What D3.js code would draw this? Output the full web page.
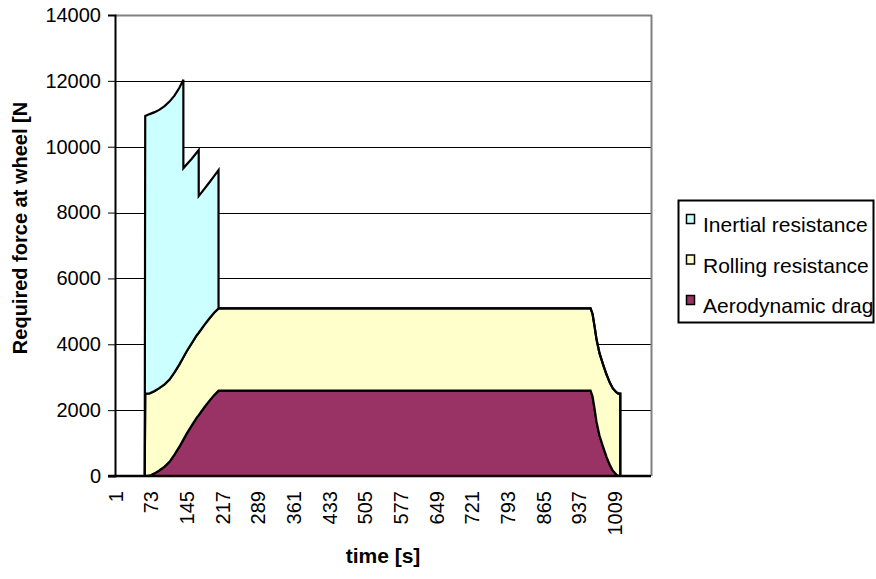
<!DOCTYPE html>
<html>
<head>
<meta charset="utf-8">
<script src="https://cdn.jsdelivr.net/npm/d3@7"></script>
<style>
  html, body { margin: 0; padding: 0; background: #ffffff; }
  svg { display: block; }
  text { font-family: "Liberation Sans", Arial, sans-serif; fill: #000; }
</style>
</head>
<body>
<svg id="chart" width="876" height="579"></svg>
<script>
// ---- data ----
const times = [1, 60, 61, 70, 80, 90, 100, 110, 120, 130, 138, 138, 145, 155, 165, 169, 169, 180, 190, 200, 209, 209,
               960, 964, 968, 972, 978, 985, 992, 999, 1005, 1012, 1016, 1020, 1020, 1082];
const aerodynamicDrag = [0, 0, 0, 10, 80, 175, 285, 430, 650, 890, 1105, 1105, 1295, 1535, 1775, 1850, 1850, 2080, 2275, 2455, 2590, 2590,
               2590, 2420, 2050, 1650, 1230, 900, 590, 330, 160, 45, 0, 0, 0, 0];
const rollingResistance = [0, 0, 2500, 2500, 2500, 2500, 2500, 2500, 2500, 2500, 2500, 2500, 2500, 2500, 2500, 2500, 2500, 2500, 2500, 2500, 2500, 2500,
               2500, 2500, 2500, 2500, 2500, 2500, 2500, 2500, 2500, 2500, 2500, 2500, 0, 0];
const inertialResistance = [0, 0, 8430, 8480, 8470, 8450, 8450, 8440, 8400, 8400, 8430, 5740, 5670, 5600, 5550, 5550, 4150, 4130, 4130, 4150, 4200, 0,
               0, 0, 0, 0, 0, 0, 0, 0, 0, 0, 0, 0, 0, 0];
const xTickLabels = [1, 73, 145, 217, 289, 361, 433, 505, 577, 649, 721, 793, 865, 937, 1009];
const yTickValues = [0, 2000, 4000, 6000, 8000, 10000, 12000, 14000];
const seriesNames = ["Inertial resistance", "Rolling resistance", "Aerodynamic drag"];
const seriesKeys = ["inertial", "rolling", "aero"];
const seriesColors = ["#CCFFFF", "#FFFFCC", "#993366"];

// ---- layout ----
const svg = d3.select("#chart");
const plot = { left: 115, right: 651, top: 15, bottom: 476 };

const x = d3.scaleLinear().domain([1, 1082]).range([115.5, plot.right]);
const y = d3.scaleLinear().domain([0, 14000]).range([plot.bottom, plot.top]);

const rows = times.map((t, i) => ({
  t: t,
  aero: aerodynamicDrag[i],
  rolling: rollingResistance[i],
  inertial: inertialResistance[i]
}));

const stack = d3.stack().keys(["aero", "rolling", "inertial"]);
const stacked = stack(rows);
const colorOf = {};
seriesKeys.forEach((k, i) => colorOf[k] = seriesColors[i]);

// gridlines
svg.append("g").selectAll("line")
  .data(yTickValues.filter(v => v > 0 && v < 14000))
  .join("line")
  .attr("x1", plot.left).attr("x2", plot.right)
  .attr("y1", d => Math.round(y(d)) + 0.5).attr("y2", d => Math.round(y(d)) + 0.5)
  .attr("stroke", "#000").attr("stroke-width", 1);

// plot border (top, right) gray
svg.append("line")
  .attr("x1", plot.left).attr("x2", plot.right + 1)
  .attr("y1", plot.top + 0.5).attr("y2", plot.top + 0.5)
  .attr("stroke", "#808080").attr("stroke-width", 2);
svg.append("line")
  .attr("x1", plot.right + 0.5).attr("x2", plot.right + 0.5)
  .attr("y1", plot.top).attr("y2", plot.bottom)
  .attr("stroke", "#808080").attr("stroke-width", 2);

// areas
const area = d3.area()
  .x(d => x(d.data.t))
  .y0(d => y(d[0]))
  .y1(d => y(d[1]));

svg.append("g").selectAll("path")
  .data(stacked)
  .join("path")
  .attr("d", area)
  .attr("fill", d => colorOf[d.key])
  .attr("stroke", "#000")
  .attr("stroke-width", 2.2)
  .attr("stroke-linejoin", "miter");

// y axis
const yAxis = d3.axisLeft(y).tickValues(yTickValues).tickSize(7).tickPadding(7).tickFormat(d3.format("d"));
const gy = svg.append("g").attr("transform", `translate(${plot.left},0)`).call(yAxis);
gy.select(".domain").attr("stroke", "#000").attr("stroke-width", 2);
gy.selectAll(".tick line").attr("stroke", "#000").attr("stroke-width", 1);
gy.selectAll(".tick text").style("font-size", "20px").style("font-family", "'Liberation Sans', Arial, sans-serif").attr("fill", "#000");

// x axis line
svg.append("line")
  .attr("x1", plot.left - 7).attr("x2", plot.right)
  .attr("y1", plot.bottom).attr("y2", plot.bottom)
  .attr("stroke", "#000").attr("stroke-width", 2.5);

// x tick labels (rotated)
svg.append("g").selectAll("text")
  .data(xTickLabels)
  .join("text")
  .attr("transform", d => `translate(${x(d)},491) rotate(-90)`)
  .attr("text-anchor", "end")
  .attr("dy", "0.35em")
  .style("font-size", "20px")
  .text(d => d);

// axis titles
svg.append("text")
  .attr("x", (plot.left + plot.right) / 2)
  .attr("y", 563)
  .attr("text-anchor", "middle")
  .style("font-size", "21px")
  .style("font-weight", "bold")
  .text("time [s]");

svg.append("text")
  .attr("transform", "translate(27,228) rotate(-90)")
  .attr("text-anchor", "middle")
  .style("font-size", "20px")
  .style("font-weight", "bold")
  .text("Required force at wheel [N");

// legend
const lg = svg.append("g");
lg.append("rect")
  .attr("x", 678.5).attr("y", 200.5).attr("width", 195).attr("height", 122)
  .attr("fill", "#fff").attr("stroke", "#000").attr("stroke-width", 2);
const items = lg.selectAll("g.item")
  .data(seriesNames.map((n, i) => ({ name: n, color: seriesColors[i] })))
  .join("g").attr("class", "item")
  .attr("transform", (d, i) => `translate(0,${232 + i * 40.5})`);
items.append("rect")
  .attr("x", 686.5).attr("y", -17.5).attr("width", 8).attr("height", 9)
  .attr("fill", d => d.color).attr("stroke", "#000").attr("stroke-width", 1.5);
items.append("text")
  .attr("x", 703).attr("y", 0)
  .style("font-size", "21px")
  .text(d => d.name);
</script>
</body>
</html>
